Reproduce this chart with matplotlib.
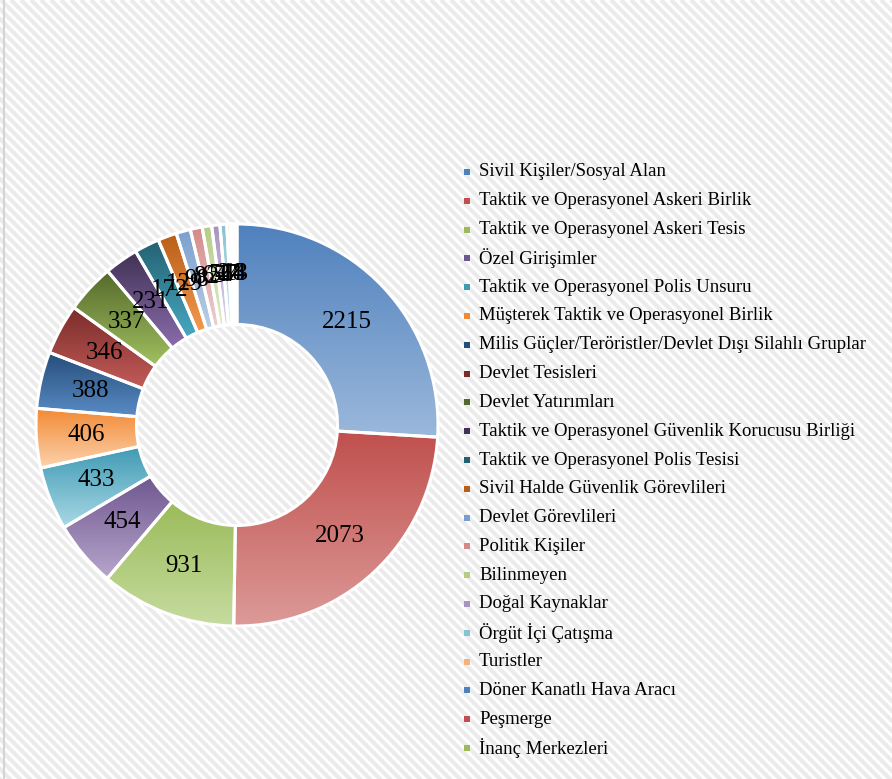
import numpy as np
import matplotlib
matplotlib.use("Agg")
import matplotlib.pyplot as plt
from matplotlib.colors import to_rgb
from matplotlib.patches import Rectangle

plt.rcParams['font.family'] = ['Liberation Serif', 'DejaVu Serif']

categories = [
    "Sivil Kişiler/Sosyal Alan",
    "Taktik ve Operasyonel Askeri Birlik",
    "Taktik ve Operasyonel Askeri Tesis",
    "Özel Girişimler",
    "Taktik ve Operasyonel Polis Unsuru",
    "Müşterek Taktik ve Operasyonel Birlik",
    "Milis Güçler/Teröristler/Devlet Dışı Silahlı Gruplar",
    "Devlet Tesisleri",
    "Devlet Yatırımları",
    "Taktik ve Operasyonel Güvenlik Korucusu Birliği",
    "Taktik ve Operasyonel Polis Tesisi",
    "Sivil Halde Güvenlik Görevlileri",
    "Devlet Görevlileri",
    "Politik Kişiler",
    "Bilinmeyen",
    "Doğal Kaynaklar",
    "Örgüt İçi Çatışma",
    "Turistler",
    "Döner Kanatlı Hava Aracı",
    "Peşmerge",
    "İnanç Merkezleri",
]
values = [2215, 2073, 931, 454, 433, 406, 388, 346, 337, 231,
          172, 129, 98, 82, 65, 56, 47, 24, 18, 14, 13]

# gradient end colours (top of each wedge, bottom of each wedge)
top_colors = ["#4f81bd", "#c0504d", "#9bbb59", "#6e568f", "#3f9ab4", "#f28a35",
              "#254d7a", "#7a2c2a", "#55692b", "#413255", "#236171", "#b85e17",
              "#7a9fcf", "#d48a88", "#b5cc86", "#a793be", "#85c3d5", "#f7b27a",
              "#4f81bd", "#c0504d", "#9bbb59"]
bottom_colors = ["#9bb8db", "#dc9a98", "#c6dca0", "#b7a6cc", "#a9d8e5", "#fcd2ad",
                 "#5a8cc6", "#c45c59", "#a0c060", "#8a6cab", "#47a8c2", "#f49a50",
                 "#bccfe6", "#eed0cf", "#e0ebcb", "#ddd5e8", "#cfe9f1", "#fde0c8",
                 "#9bb8db", "#dc9a98", "#c6dca0"]

W, H = 892, 779
fig = plt.figure(figsize=(W / 100, H / 100), dpi=100)

# striped background
bg = fig.add_axes([0, 0, 1, 1], zorder=-1)
bg.set_xlim(0, W)
bg.set_ylim(H, 0)
bg.axis("off")
for c in np.arange(-H, W + 10, 10):
    bg.plot([c, c + H + 20], [0, H + 20], color="#ebebeb", lw=3.0,
            solid_capstyle="butt")
bg.plot([4, 4], [0, H], color="#d4d4d4", lw=1.5)

# donut centred at (237, 425) px with radius 201 px
cx, cy, r = 237, 425, 201
ax = fig.add_axes([(cx - r) / W, (H - cy - r) / H, 2 * r / W, 2 * r / H])

wedges, _ = ax.pie(values, startangle=90, counterclock=False, radius=1,
                   colors=top_colors, wedgeprops=dict(width=0.5, linewidth=0))

for w, c_top, c_bot in zip(wedges, top_colors, bottom_colors):
    t = np.radians(np.linspace(w.theta1, w.theta2, 60))
    xs = np.concatenate([np.cos(t), 0.5 * np.cos(t)])
    ys = np.concatenate([np.sin(t), 0.5 * np.sin(t)])
    x0, x1, y0, y1 = xs.min(), xs.max(), ys.min(), ys.max()
    f = np.linspace(0, 1, 128)[:, None]
    grad = (1 - f) * np.array(to_rgb(c_bot)) + f * np.array(to_rgb(c_top))
    img = ax.imshow(grad[:, None, :], extent=[x0, x1, y0, y1], origin="lower",
                    aspect="auto", interpolation="bilinear", zorder=2)
    img.set_clip_path(w)

# white separators on top of the gradients
edges, _ = ax.pie(values, startangle=90, counterclock=False, radius=1,
                  colors=["none"] * len(values),
                  wedgeprops=dict(width=0.5, linewidth=2.2, edgecolor="white"))
for e in edges:
    e.set_zorder(3)
    e.set_clip_on(False)

for w, v in zip(wedges, values):
    a = np.radians((w.theta1 + w.theta2) / 2)
    ax.text(0.75 * np.cos(a), 0.75 * np.sin(a), str(v), ha="center",
            va="center", fontsize=18, zorder=4)

# pie() resets the limits, so fix them afterwards
ax.set_xlim(-1, 1)
ax.set_ylim(-1, 1)
ax.axis("off")

# legend
for i, name in enumerate(categories):
    y = 172 + i * 28.8
    fig.patches.append(Rectangle((464 / W, 1 - (y + 3) / H), 6 / W, 6 / H,
                                 transform=fig.transFigure, facecolor=top_colors[i],
                                 edgecolor="none"))
    fig.text(479 / W, 1 - y / H, name, ha="left", va="center", fontsize=13.5)

fig.savefig("out.png", dpi=100)
